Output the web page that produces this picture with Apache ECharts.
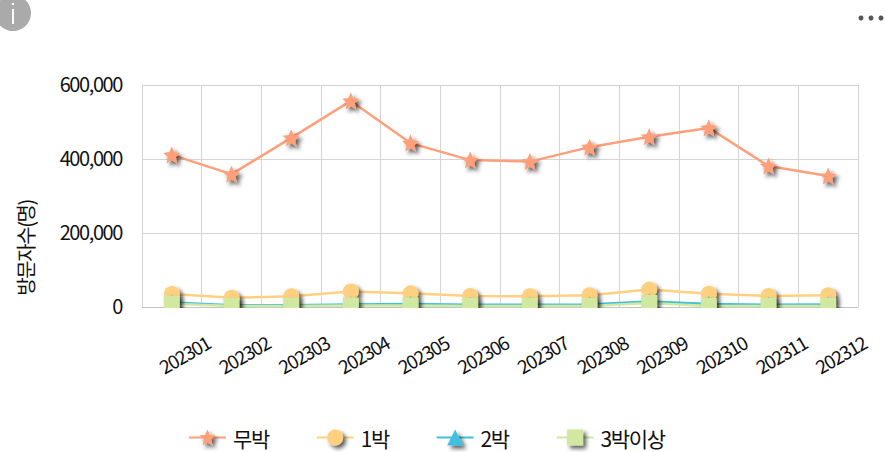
<!DOCTYPE html>
<html>
<head>
<meta charset="utf-8">
<style>
  html, body { margin: 0; padding: 0; background: #fff; }
  #chart { width: 885px; height: 452px; }
  #chart text { letter-spacing: -1.4px; }
</style>
<script src="https://cdn.jsdelivr.net/npm/echarts@6/dist/echarts.min.js"></script>
</head>
<body>
<div id="chart"></div>
<script>
const months = ['202301', '202302', '202303', '202304', '202305', '202306', '202307', '202308', '202309', '202310', '202311', '202312']
const dayTrip = [411000, 359000, 457000, 557000, 443000, 397000, 393000, 432000, 460000, 484000, 381000, 354000]
const oneNight = [35000, 25000, 29000, 42000, 37000, 30000, 29000, 32000, 47000, 36000, 30000, 32000]
const twoNights = [12000, 5000, 5000, 7000, 8000, 6000, 6000, 7000, 15000, 8000, 6000, 7000]
const threePlus = [9000, 3000, 3000, 4000, 4000, 3000, 3000, 3000, 11000, 3000, 3000, 3000]
const yTicks = [0, 200000, 400000, 600000]

const FONT = '"Noto Sans CJK KR", "Noto Sans", sans-serif'
const STAR = 'path://M50 0 L65 33 L100 38 L74 62 L81 100 L50 81 L19 100 L26 62 L0 38 L35 33 Z'
const SHADOW = {
  shadowColor: 'rgba(0,0,0,0.65)',
  shadowBlur: 4,
  shadowOffsetX: 3,
  shadowOffsetY: 3,
}

const makeSeries = (name, data, color, symbol, size) => ({
  name,
  type: 'line',
  data,
  symbol,
  symbolSize: size,
  showSymbol: true,
  lineStyle: { color, width: 2.5 },
  itemStyle: { color, ...SHADOW },
  emphasis: { disabled: true },
  animation: false,
})

const chart = echarts.init(document.getElementById('chart'), null, { renderer: 'svg' })

chart.setOption({
  animation: false,
  textStyle: { fontFamily: FONT },
  grid: { left: 142, right: 27, top: 85, bottom: 145 },
  legend: {
    left: 188,
    top: 427,
    padding: 0,
    itemWidth: 37,
    itemHeight: 20,
    itemGap: 44,
    itemStyle: SHADOW,
    textStyle: { fontSize: 21, color: '#111', fontFamily: FONT, padding: [0, 0, 2, 2] },
  },
  xAxis: {
    type: 'category',
    data: months,
    axisTick: { show: false },
    axisLine: { lineStyle: { color: '#c4c4c4', width: 1 } },
    splitLine: { show: true, lineStyle: { color: '#d4d4d4', width: 1 } },
    axisLabel: {
      interval: 0,
      rotate: 30,
      align: 'center',
      verticalAlign: 'middle',
      padding: [0, 0, 0, 28],
      margin: 54,
      fontSize: 19,
      color: '#111',
    },
  },
  yAxis: {
    type: 'value',
    min: yTicks[0],
    max: yTicks[yTicks.length - 1],
    interval: yTicks[1],
    axisLine: { show: true, lineStyle: { color: '#d4d4d4', width: 1 } },
    axisTick: { show: false },
    splitLine: { lineStyle: { color: '#d4d4d4', width: 1 } },
    axisLabel: {
      margin: 20,
      formatter: (v) => '{tick|' + v.toLocaleString('en-US') + '}',
      rich: {
        tick: { fontSize: 20, color: '#111', fontFamily: FONT, padding: [0, 0, 4, 0] },
      },
    },
  },
  series: [
    makeSeries('무박', dayTrip, '#ffa07a', STAR, 17),
    makeSeries('1박', oneNight, '#ffd080', 'circle', 16),
    makeSeries('2박', twoNights, '#40c0e0', 'triangle', 16),
    makeSeries('3박이상', threePlus, '#d0e8a0', 'rect', 16),
  ],
  graphic: [
    // 축 아래로 나온 심볼 가리기
    { type: 'rect', z: 100, shape: { x: 142, y: 308, width: 730, height: 14 }, style: { fill: '#fff' } },
    { type: 'circle', z: 100, shape: { cx: 13, cy: 13, r: 18 }, style: { fill: '#aaaaaa' } },
    { type: 'rect', z: 101, shape: { x: 12, y: 9, width: 2, height: 15 }, style: { fill: '#fff' } },
    { type: 'rect', z: 101, shape: { x: 12, y: 3, width: 2, height: 2 }, style: { fill: '#fff' } },
    { type: 'circle', z: 100, shape: { cx: 861, cy: 18, r: 2.5 }, style: { fill: '#555' } },
    { type: 'circle', z: 100, shape: { cx: 871, cy: 18, r: 2.5 }, style: { fill: '#555' } },
    { type: 'circle', z: 100, shape: { cx: 881, cy: 18, r: 2.5 }, style: { fill: '#555' } },
    {
      type: 'text',
      z: 100,
      x: 25,
      y: 248,
      rotation: Math.PI / 2,
      style: { text: '방문자수(명)', fontSize: 20, fontFamily: FONT, fill: '#111', align: 'center', verticalAlign: 'middle' },
    },
  ],
})
</script>
</body>
</html>
